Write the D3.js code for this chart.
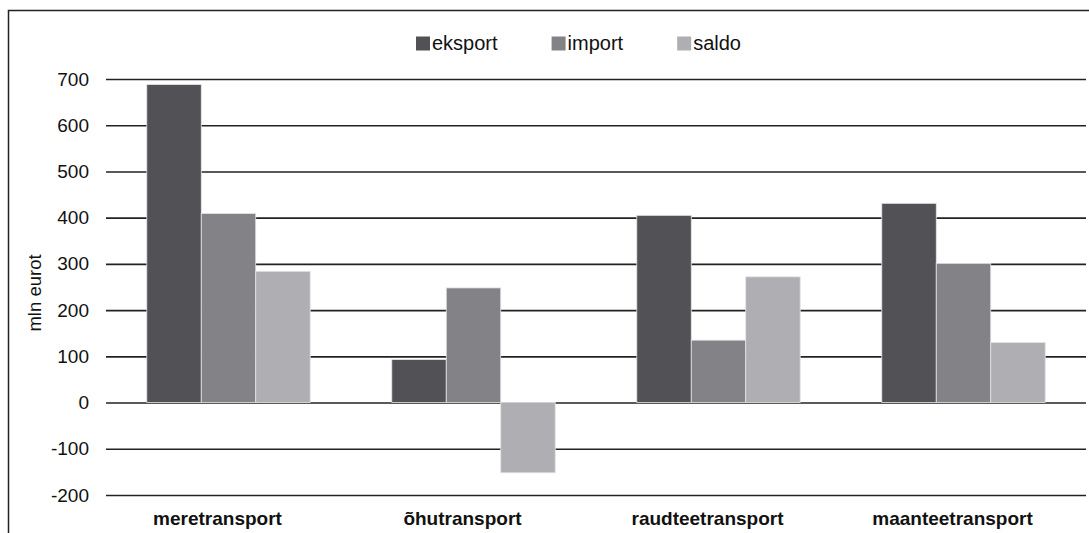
<!DOCTYPE html>
<html>
<head>
<meta charset="utf-8">
<script src="https://cdn.jsdelivr.net/npm/d3@7"></script>
<style>
  body { margin: 0; background: #fff; }
  text { font-family: "Liberation Sans", Arial, Helvetica, sans-serif; fill: #111; }
</style>
</head>
<body>
<script>
const width = 1089;
const height = 533;

const categories = ["meretransport", "õhutransport", "raudteetransport", "maanteetransport"];
const series = ["eksport", "import", "saldo"];
const eksport = [688, 93, 405, 431];
const importValues = [409, 248, 135, 301];
const saldo = [284, -152, 272, 130];
const yTicks = [-200, -100, 0, 100, 200, 300, 400, 500, 600, 700];
const colors = ["#525156", "#838287", "#afafb3"];

const values = [eksport, importValues, saldo];
const rows = categories.map((c, i) => ({
    category: c,
    bars: series.map((s, j) => ({ key: s, value: values[j][i] }))
}));

const margin = { top: 79, right: 3, bottom: 38, left: 106 };

const svg = d3.select("body")
      .append("svg")
      .attr("width", width)
      .attr("height", height);

// outer frame (right and bottom fall outside the picture)
svg.append("rect")
    .attr("x", 8.5)
    .attr("y", 10.5)
    .attr("width", 1200)
    .attr("height", 700)
    .attr("fill", "none")
    .attr("stroke", "#222")
    .attr("stroke-width", 1.5);

const x0 = d3.scaleBand()
      .domain(categories)
      .range([margin.left, width - margin.right])
      .paddingInner(0.333)
      .paddingOuter(0.1665);

const x1 = d3.scaleBand()
      .domain(series)
      .range([0, x0.bandwidth()]);

const y = d3.scaleLinear()
      .domain([-200, 700])
      .range([height - margin.bottom, margin.top]);

// grid lines with tick labels
const yAxis = svg.append("g")
      .attr("transform", `translate(${margin.left},0)`)
      .call(d3.axisLeft(y)
	    .tickValues(yTicks)
	    .tickFormat(d => String(d))
	    .tickSize(-(width - margin.right - margin.left))
	    .tickPadding(17));

yAxis.select(".domain").remove();
yAxis.selectAll(".tick line")
    .attr("stroke", "#222")
    .attr("stroke-width", 1.6);
yAxis.selectAll(".tick text")
    .attr("font-size", 19)
    .attr("fill", "#111");

svg.append("text")
    .attr("transform", `translate(41,${(y(700) + y(-200)) / 2 + 6}) rotate(-90)`)
    .attr("text-anchor", "middle")
    .attr("font-size", 18.5)
    .text("mln eurot");

// bars
const groups = svg.append("g")
      .selectAll("g")
      .data(rows)
      .join("g")
      .attr("transform", d => `translate(${x0(d.category)},0)`);

groups.selectAll("rect")
    .data(d => d.bars)
    .join("rect")
    .attr("x", d => x1(d.key))
    .attr("width", x1.bandwidth())
    .attr("y", d => y(Math.max(0, d.value)))
    .attr("height", d => Math.abs(y(d.value) - y(0)))
    .attr("fill", (d, i) => colors[i])
    .attr("stroke", "#e4e4e6")
    .attr("stroke-width", 0.8);

// category labels
svg.append("g")
    .selectAll("text")
    .data(categories)
    .join("text")
    .attr("x", d => x0(d) + x0.bandwidth() / 2 - 11)
    .attr("y", 525)
    .attr("text-anchor", "middle")
    .attr("font-size", 19)
    .attr("font-weight", "bold")
    .text(d => d);

// legend
const legend = svg.append("g")
      .attr("transform", "translate(416,0)");

let offset = 0;
series.forEach((s, i) => {
    const item = legend.append("g")
	  .attr("transform", `translate(${offset},0)`);
    item.append("rect")
	.attr("x", 0)
	.attr("y", 36.5)
	.attr("width", 14)
	.attr("height", 14)
	.attr("fill", colors[i]);
    const label = item.append("text")
	  .attr("x", 16)
	  .attr("y", 50)
	  .attr("font-size", 20)
	  .text(s);
    offset += 16 + label.node().getComputedTextLength() + 54;
});
</script>
</body>
</html>
